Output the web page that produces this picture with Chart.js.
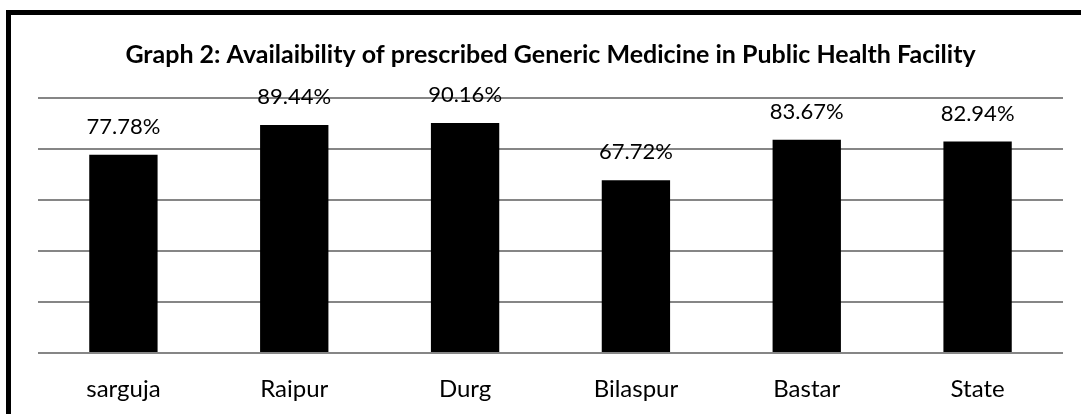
<!DOCTYPE html>
<html>
<head>
<meta charset="utf-8">
<script src="https://cdn.jsdelivr.net/npm/chart.js@4/dist/chart.umd.min.js"></script>
<style>
  html, body { margin: 0; padding: 0; background: #fff; overflow: hidden; }
  #wrap { position: relative; width: 1081px; height: 414px; overflow: hidden; }
  #frame { position: absolute; left: 6px; top: 10px; width: 1100px; height: 430px; border: 5px solid #000; box-sizing: border-box; }
  #c { position: absolute; left: 0; top: 0; }
</style>
</head>
<body>
<div id="wrap">
  <div id="frame"></div>
  <canvas id="c" width="1081" height="420"></canvas>
</div>
<script>
const districts = ['sarguja', 'Raipur', 'Durg', 'Bilaspur', 'Bastar', 'State'];
const availability = [77.78, 89.44, 90.16, 67.72, 83.67, 82.94];
const titleText = 'Graph 2: Availaibility of prescribed Generic Medicine in Public Health Facility';

const FONT = 'Lato, "Open Sans", sans-serif';

// value labels above each bar
const barLabels = {
  id: 'barLabels',
  afterDatasetsDraw(chart) {
    const ctx = chart.ctx;
    const meta = chart.getDatasetMeta(0);
    ctx.save();
    ctx.font = '22px ' + FONT;
    ctx.fillStyle = '#000';
    ctx.textAlign = 'center';
    ctx.textBaseline = 'middle';
    meta.data.forEach((bar, i) => {
      ctx.fillText(availability[i].toFixed(2) + '%', bar.x, bar.y - 28);
    });
    ctx.restore();
  }
};

new Chart(document.getElementById('c'), {
  type: 'bar',
  data: {
    labels: districts,
    datasets: [{
      data: availability,
      backgroundColor: '#000',
      borderWidth: 0,
      categoryPercentage: 1,
      barPercentage: 0.4
    }]
  },
  options: {
    responsive: false,
    animation: false,
    layout: { padding: { left: 38, right: 18, top: 0, bottom: 3.4 } },
    plugins: {
      legend: { display: false },
      tooltip: { enabled: false },
      title: {
        display: true,
        text: titleText,
        color: '#000',
        font: { family: FONT, size: 25, weight: 'bold' },
        padding: { top: 40, bottom: 28 }
      }
    },
    scales: {
      x: {
        grid: { display: false },
        border: { display: false },
        ticks: { color: '#000', font: { family: FONT, size: 24 }, padding: 13.4 }
      },
      y: {
        min: 0,
        max: 100,
        ticks: { stepSize: 20, display: false },
        border: { display: false },
        grid: { color: '#868686', lineWidth: 2, drawTicks: false }
      }
    }
  },
  plugins: [barLabels]
});
</script>
</body>
</html>
